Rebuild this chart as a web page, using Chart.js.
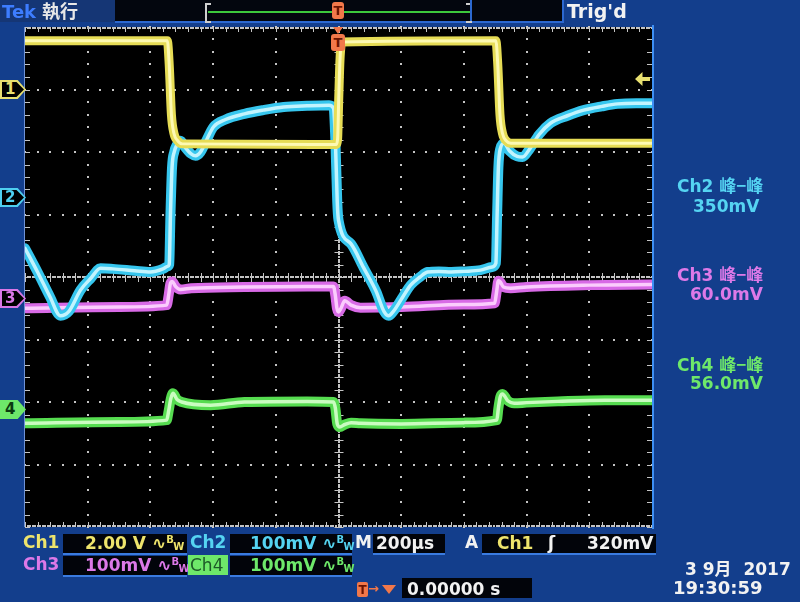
<!DOCTYPE html>
<html>
<head>
<meta charset="utf-8">
<title>Tek scope capture</title>
<script src="https://cdn.jsdelivr.net/npm/chart.js@4/dist/chart.umd.min.js"></script>
<style>
  body { margin: 0; width: 800px; height: 602px; overflow: hidden; position: relative;
         background: #133e8c; font-family: "DejaVu Sans", sans-serif; font-weight: bold; }
  #chart { position: absolute; left: 0; top: 0; }
  .t   { position: absolute; white-space: nowrap; line-height: 1; font-size: 17px; }
  .box { position: absolute; background: #02040a; border-bottom: 2px solid #3a7be0; }
  .cjk { font-family: "Noto Sans CJK SC", sans-serif; font-weight: 700; }
  .bw  { font-size: 10px; position: relative; }
  .mk  { position: absolute; left: 0; width: 26px; height: 19px;
         clip-path: polygon(0 0, 68% 0, 100% 50%, 68% 100%, 0 100%); }
  .mk i { position: absolute; left: 2px; top: 2px; right: 2px; bottom: 2px; background: #000;
          clip-path: polygon(0 0, 66% 0, 100% 50%, 66% 100%, 0 100%); }
  .mk b { position: absolute; left: 5px; top: 2px; font-size: 15px; line-height: 1; }
</style>
</head>
<body>
<canvas id="chart" width="800" height="602"></canvas>

<!-- header -->
<div style="position:absolute;left:0;top:0;width:115px;height:22px;background:#153675"></div>
<div style="position:absolute;left:115px;top:0;width:447px;height:21px;background:#03060e;border-bottom:2px solid #2c68d0;border-right:2px solid #2c68d0"></div>
<div class="t" style="left:2px;top:3px;font-size:18px;color:#3d7dff">Tek</div>
<div class="t cjk" style="left:42px;top:1px;font-size:18px;color:#e8e8e8">執行</div>
<div style="position:absolute;left:205px;top:3px;width:4px;height:16px;border:2px solid #cfcfcf;border-right:none"></div>
<div style="position:absolute;left:208px;top:11px;width:262px;height:2px;background:#3cc83c"></div>
<div style="position:absolute;left:466px;top:3px;width:4px;height:16px;border:2px solid #cfcfcf;border-left:none"></div>
<div style="position:absolute;left:470px;top:0;width:2px;height:21px;background:#2c68d0"></div>
<div class="t" style="left:567px;top:2px;font-size:19px;color:#f2f2f2">Trig'd</div>

<!-- trigger position markers -->
<div class="t" style="left:332px;top:2px;width:12px;height:17px;background:#f2784a;border-radius:3px;color:#6a1400;font-size:13px;text-align:center;padding-top:2px;box-sizing:border-box">T</div>
<div style="position:absolute;left:333px;top:27px;width:10px;height:7px;background:#f2784a;clip-path:polygon(0 0,100% 0,50% 100%)"></div>
<div class="t" style="left:331px;top:34px;width:14px;height:17px;background:#f2784a;border-radius:3px;color:#6a1400;font-size:13px;text-align:center;padding-top:2px;box-sizing:border-box">T</div>

<!-- trigger level arrow -->
<div style="position:absolute;left:635px;top:72px;width:15px;height:14px;background:#e8e070;clip-path:polygon(0 50%,50% 0,50% 35%,100% 35%,100% 65%,50% 65%,50% 100%)"></div>

<!-- channel ground markers -->
<div class="mk" style="top:80px;background:#e8e070"><i></i><b style="color:#e8e070">1</b></div>
<div class="mk" style="top:188px;background:#4ecff0"><i></i><b style="color:#4ecff0">2</b></div>
<div class="mk" style="top:289px;background:#d977e6"><i></i><b style="color:#d977e6">3</b></div>
<div class="mk" style="top:400px;background:#6ee86a"><b style="color:#0b3a10">4</b></div>

<!-- right readouts -->
<div class="t" style="left:677px;top:176px;color:#55d4f2">Ch2 <span class="cjk">峰−峰</span></div>
<div class="t" style="left:693px;top:198px;color:#55d4f2">350mV</div>
<div class="t" style="left:677px;top:265px;color:#dd79e8">Ch3 <span class="cjk">峰−峰</span></div>
<div class="t" style="left:690px;top:286px;color:#dd79e8">60.0mV</div>
<div class="t" style="left:677px;top:355px;color:#6ee86a">Ch4 <span class="cjk">峰−峰</span></div>
<div class="t" style="left:690px;top:375px;color:#6ee86a">56.0mV</div>

<!-- bottom readouts, row 1 -->
<div class="t" style="left:23px;top:534px;color:#eee46c">Ch1</div>
<div class="box" style="left:63px;top:534px;width:124px;height:19px"></div>
<div class="t" style="left:85px;top:535px;color:#eee46c">2.00 V <span>∿</span><span class="bw" style="top:-6px">B</span><span class="bw" style="top:1px">W</span></div>
<div class="t" style="left:190px;top:534px;color:#55d4f2">Ch2</div>
<div class="box" style="left:230px;top:534px;width:122px;height:19px"></div>
<div class="t" style="left:250px;top:535px;color:#55d4f2">100mV <span>∿</span><span class="bw" style="top:-6px">B</span><span class="bw" style="top:1px">W</span></div>
<div class="t" style="left:355px;top:534px;color:#f2f2f2">M</div>
<div class="box" style="left:373px;top:534px;width:72px;height:19px"></div>
<div class="t" style="left:376px;top:535px;color:#f2f2f2">200µs</div>
<div class="t" style="left:465px;top:534px;color:#f2f2f2">A</div>
<div class="box" style="left:482px;top:534px;width:174px;height:19px"></div>
<div class="t" style="left:497px;top:535px;color:#eee46c">Ch1</div>
<div class="t" style="left:548px;top:535px;color:#f2f2f2">ʃ</div>
<div class="t" style="left:587px;top:535px;color:#f2f2f2">320mV</div>

<!-- bottom readouts, row 2 -->
<div class="t" style="left:23px;top:556px;color:#dd79e8">Ch3</div>
<div class="box" style="left:63px;top:556px;width:124px;height:19px"></div>
<div class="t" style="left:85px;top:557px;color:#dd79e8">100mV <span>∿</span><span class="bw" style="top:-6px">B</span><span class="bw" style="top:1px">W</span></div>
<div class="t" style="left:188px;top:555px;width:40px;height:20px;background:#6ee86a;color:#1d5a28;font-weight:normal;padding:2px 0 0 2px;box-sizing:border-box">Ch4</div>
<div class="box" style="left:230px;top:556px;width:122px;height:19px"></div>
<div class="t" style="left:250px;top:557px;color:#6ee86a">100mV <span>∿</span><span class="bw" style="top:-6px">B</span><span class="bw" style="top:1px">W</span></div>

<!-- bottom row 3 -->
<div class="t" style="left:357px;top:582px;width:11px;height:15px;background:#f2784a;border-radius:2px;color:#6a1400;font-size:12px;text-align:center;padding-top:2px;box-sizing:border-box">T</div>
<div class="t" style="left:368px;top:582px;color:#f2784a;font-size:13px">→</div>
<div style="position:absolute;left:382px;top:585px;width:14px;height:9px;background:#f2784a;clip-path:polygon(0 0,100% 0,50% 100%)"></div>
<div class="box" style="left:402px;top:578px;width:130px;height:20px;border-bottom:none"></div>
<div class="t" style="left:407px;top:581px;color:#f2f2f2">0.00000 s</div>
<div class="t" style="left:685px;top:559px;color:#f2f2f2">3 9<span class="cjk">月</span>&nbsp; 2017</div>
<div class="t" style="left:673px;top:579px;color:#f2f2f2;font-size:18px">19:30:59</div>

<script>
"use strict";

// ── Data (time in µs, amplitude in screen divisions) ─────────────────────────
const ch1Time = [-1000, -546, -540, -533, -525, -513, -498, -8, -3, 1, 5, 11, 502, 508, 515, 523, 535, 550, 1000];
const ch1Div  = [3.78, 3.78, 3.4, 2.6, 2.3, 2.18, 2.13, 2.12, 2.2, 2.9, 3.5, 3.76, 3.78, 3.4, 2.6, 2.3, 2.18, 2.14, 2.14];

const ch2Time = [-1000, -960, -920, -887, -860, -823, -790, -759, -720, -650, -600, -560, -545, -540, -536, -531, -524,
                 -515, -504, -490, -470, -456, -440, -420, -399, -360, -300, -240, -175, -100, -30, -16, -10, -4, 0,
                 40, 80, 120, 145, 160, 175, 205, 230, 260, 284, 320, 360, 400, 453, 490, 502, 506, 510, 516,
                 528, 545, 570, 587, 610, 640, 676, 730, 782, 840, 890, 950, 1000];
const ch2Div  = [0.46, 0.08, -0.32, -0.62, -0.55, -0.21, -0.02, 0.14, 0.13, 0.10, 0.08, 0.13, 0.17, 0.2, 1.0, 1.75, 2.0,
                 2.12, 2.18, 2.08, 1.97, 1.94, 2.0, 2.2, 2.40, 2.52, 2.61, 2.67, 2.72, 2.74, 2.75, 2.7, 2.2, 1.2, 0.91,
                 0.53, 0.15, -0.23, -0.55, -0.62, -0.55, -0.32, -0.13, 0.0, 0.08, 0.09, 0.08, 0.09, 0.11, 0.16, 0.22, 1.0, 1.75, 2.05,
                 2.14, 2.02, 1.93, 1.92, 2.05, 2.28, 2.46, 2.58, 2.67, 2.73, 2.77, 2.78, 2.78];

const ch3Time = [-1000, -700, -548, -542, -536, -530, -520, -504, -470, -300, -100, -16, -10, -5, 0, 8, 20, 40, 70,
                 200, 400, 498, 504, 510, 516, 526, 549, 600, 800, 1000];
const ch3Div  = [-0.50, -0.48, -0.45, -0.3, -0.1, -0.07, -0.15, -0.2, -0.18, -0.16, -0.15, -0.15, -0.3, -0.5, -0.56,
                 -0.5, -0.38, -0.45, -0.49, -0.48, -0.44, -0.42, -0.25, -0.06, -0.08, -0.16, -0.18, -0.16, -0.13, -0.12];

const ch4Time = [-1000, -700, -548, -542, -535, -528, -515, -500, -408, -300, -100, -16, -10, -4, 4, 20, 40, 70,
                 200, 400, 505, 510, 516, 523, 540, 560, 600, 700, 850, 1000];
const ch4Div  = [-2.34, -2.32, -2.29, -2.15, -1.95, -1.86, -1.96, -2.0, -2.05, -2.0, -1.99, -2.0, -2.1, -2.35, -2.40,
                 -2.36, -2.33, -2.34, -2.35, -2.33, -2.29, -2.1, -1.92, -1.87, -1.98, -2.02, -2.01, -1.99, -1.97, -1.97];

// ── Helpers ───────────────────────────────────────────────────────────────────
const pts = (t, v) => t.map((x, i) => ({ x, y: v[i] }));

function trace(data, color, width) {
  return {
    data,
    borderColor: color,
    borderWidth: width,
    pointRadius: 0,
    fill: false,
    cubicInterpolationMode: "monotone",
    borderJoinStyle: "round",
    borderCapStyle: "round",
  };
}

// ── Scope graticule ───────────────────────────────────────────────────────────
const graticule = {
  id: "graticule",
  beforeDatasetsDraw(chart) {
    const { ctx, chartArea: a, scales: { x, y } } = chart;
    ctx.save();
    ctx.fillStyle = "#000";
    ctx.fillRect(a.left, a.top, a.right - a.left, a.bottom - a.top);

    ctx.fillStyle = "#c4c4c4";
    const dot = (px, py) => ctx.fillRect(Math.round(px) - 1, Math.round(py) - 1, 2, 2);

    // dotted division lines
    for (let i = -4; i <= 4; i++) {
      if (i === 0) continue;
      const px = x.getPixelForValue(i * 200);
      for (let j = -20; j <= 20; j++) dot(px, y.getPixelForValue(j * 0.2));
    }
    for (let j = -3; j <= 3; j++) {
      if (j === 0) continue;
      const py = y.getPixelForValue(j);
      for (let i = -25; i <= 25; i++) dot(x.getPixelForValue(i * 40), py);
    }

    // centre cross with fine dots and minor ticks
    const cx = x.getPixelForValue(0), cy = y.getPixelForValue(0);
    for (let i = -125; i <= 125; i++) dot(x.getPixelForValue(i * 8), cy);
    for (let j = -100; j <= 100; j++) dot(cx, y.getPixelForValue(j * 0.04));
    for (let i = -25; i <= 25; i++) ctx.fillRect(Math.round(x.getPixelForValue(i * 40)), cy - 4, 1, 9);
    for (let j = -20; j <= 20; j++) ctx.fillRect(cx - 4, Math.round(y.getPixelForValue(j * 0.2)), 9, 1);

    // frame ticks
    for (let i = -25; i <= 25; i++) {
      const px = Math.round(x.getPixelForValue(i * 40));
      ctx.fillRect(px, a.top, 1, 5);
      ctx.fillRect(px, a.bottom - 5, 1, 5);
    }
    for (let i = -125; i <= 125; i++) {
      const px = x.getPixelForValue(i * 8);
      dot(px, a.top + 1);
      dot(px, a.bottom - 1);
    }
    for (let j = -20; j <= 20; j++) {
      const py = Math.round(y.getPixelForValue(j * 0.2));
      ctx.fillRect(a.left, py, 5, 1);
      ctx.fillRect(a.right - 5, py, 5, 1);
    }
    ctx.fillStyle = "#6f92d4";
    ctx.fillRect(a.left - 1, a.top, 1, a.bottom - a.top);
    ctx.fillStyle = "#3d8ff5";
    ctx.fillRect(a.right, a.top - 2, 2, a.bottom - a.top + 4);
    ctx.restore();
  },
};

// ── Chart ─────────────────────────────────────────────────────────────────────
new Chart(document.getElementById("chart"), {
  type: "line",
  data: {
    datasets: [
      trace(pts(ch1Time, ch1Div), "rgba(255,252,190,0.9)", 3),
      trace(pts(ch1Time, ch1Div), "#e6dc55", 9),
      trace(pts(ch2Time, ch2Div), "rgba(210,248,255,0.9)", 3.5),
      trace(pts(ch2Time, ch2Div), "#36c6ee", 10),
      trace(pts(ch3Time, ch3Div), "rgba(255,215,255,0.9)", 3.5),
      trace(pts(ch3Time, ch3Div), "#d86ae6", 10),
      trace(pts(ch4Time, ch4Div), "rgba(215,255,205,0.9)", 3.5),
      trace(pts(ch4Time, ch4Div), "#56dc50", 10),
    ],
  },
  options: {
    responsive: false,
    animation: false,
    layout: { padding: { left: 25, top: 27, right: 148, bottom: 75 } },
    plugins: { legend: { display: false }, tooltip: { enabled: false } },
    scales: {
      x: { type: "linear", min: -1000, max: 1000, display: false },
      y: { type: "linear", min: -4, max: 4, display: false },
    },
  },
  plugins: [graticule],
});
</script>
</body>
</html>
